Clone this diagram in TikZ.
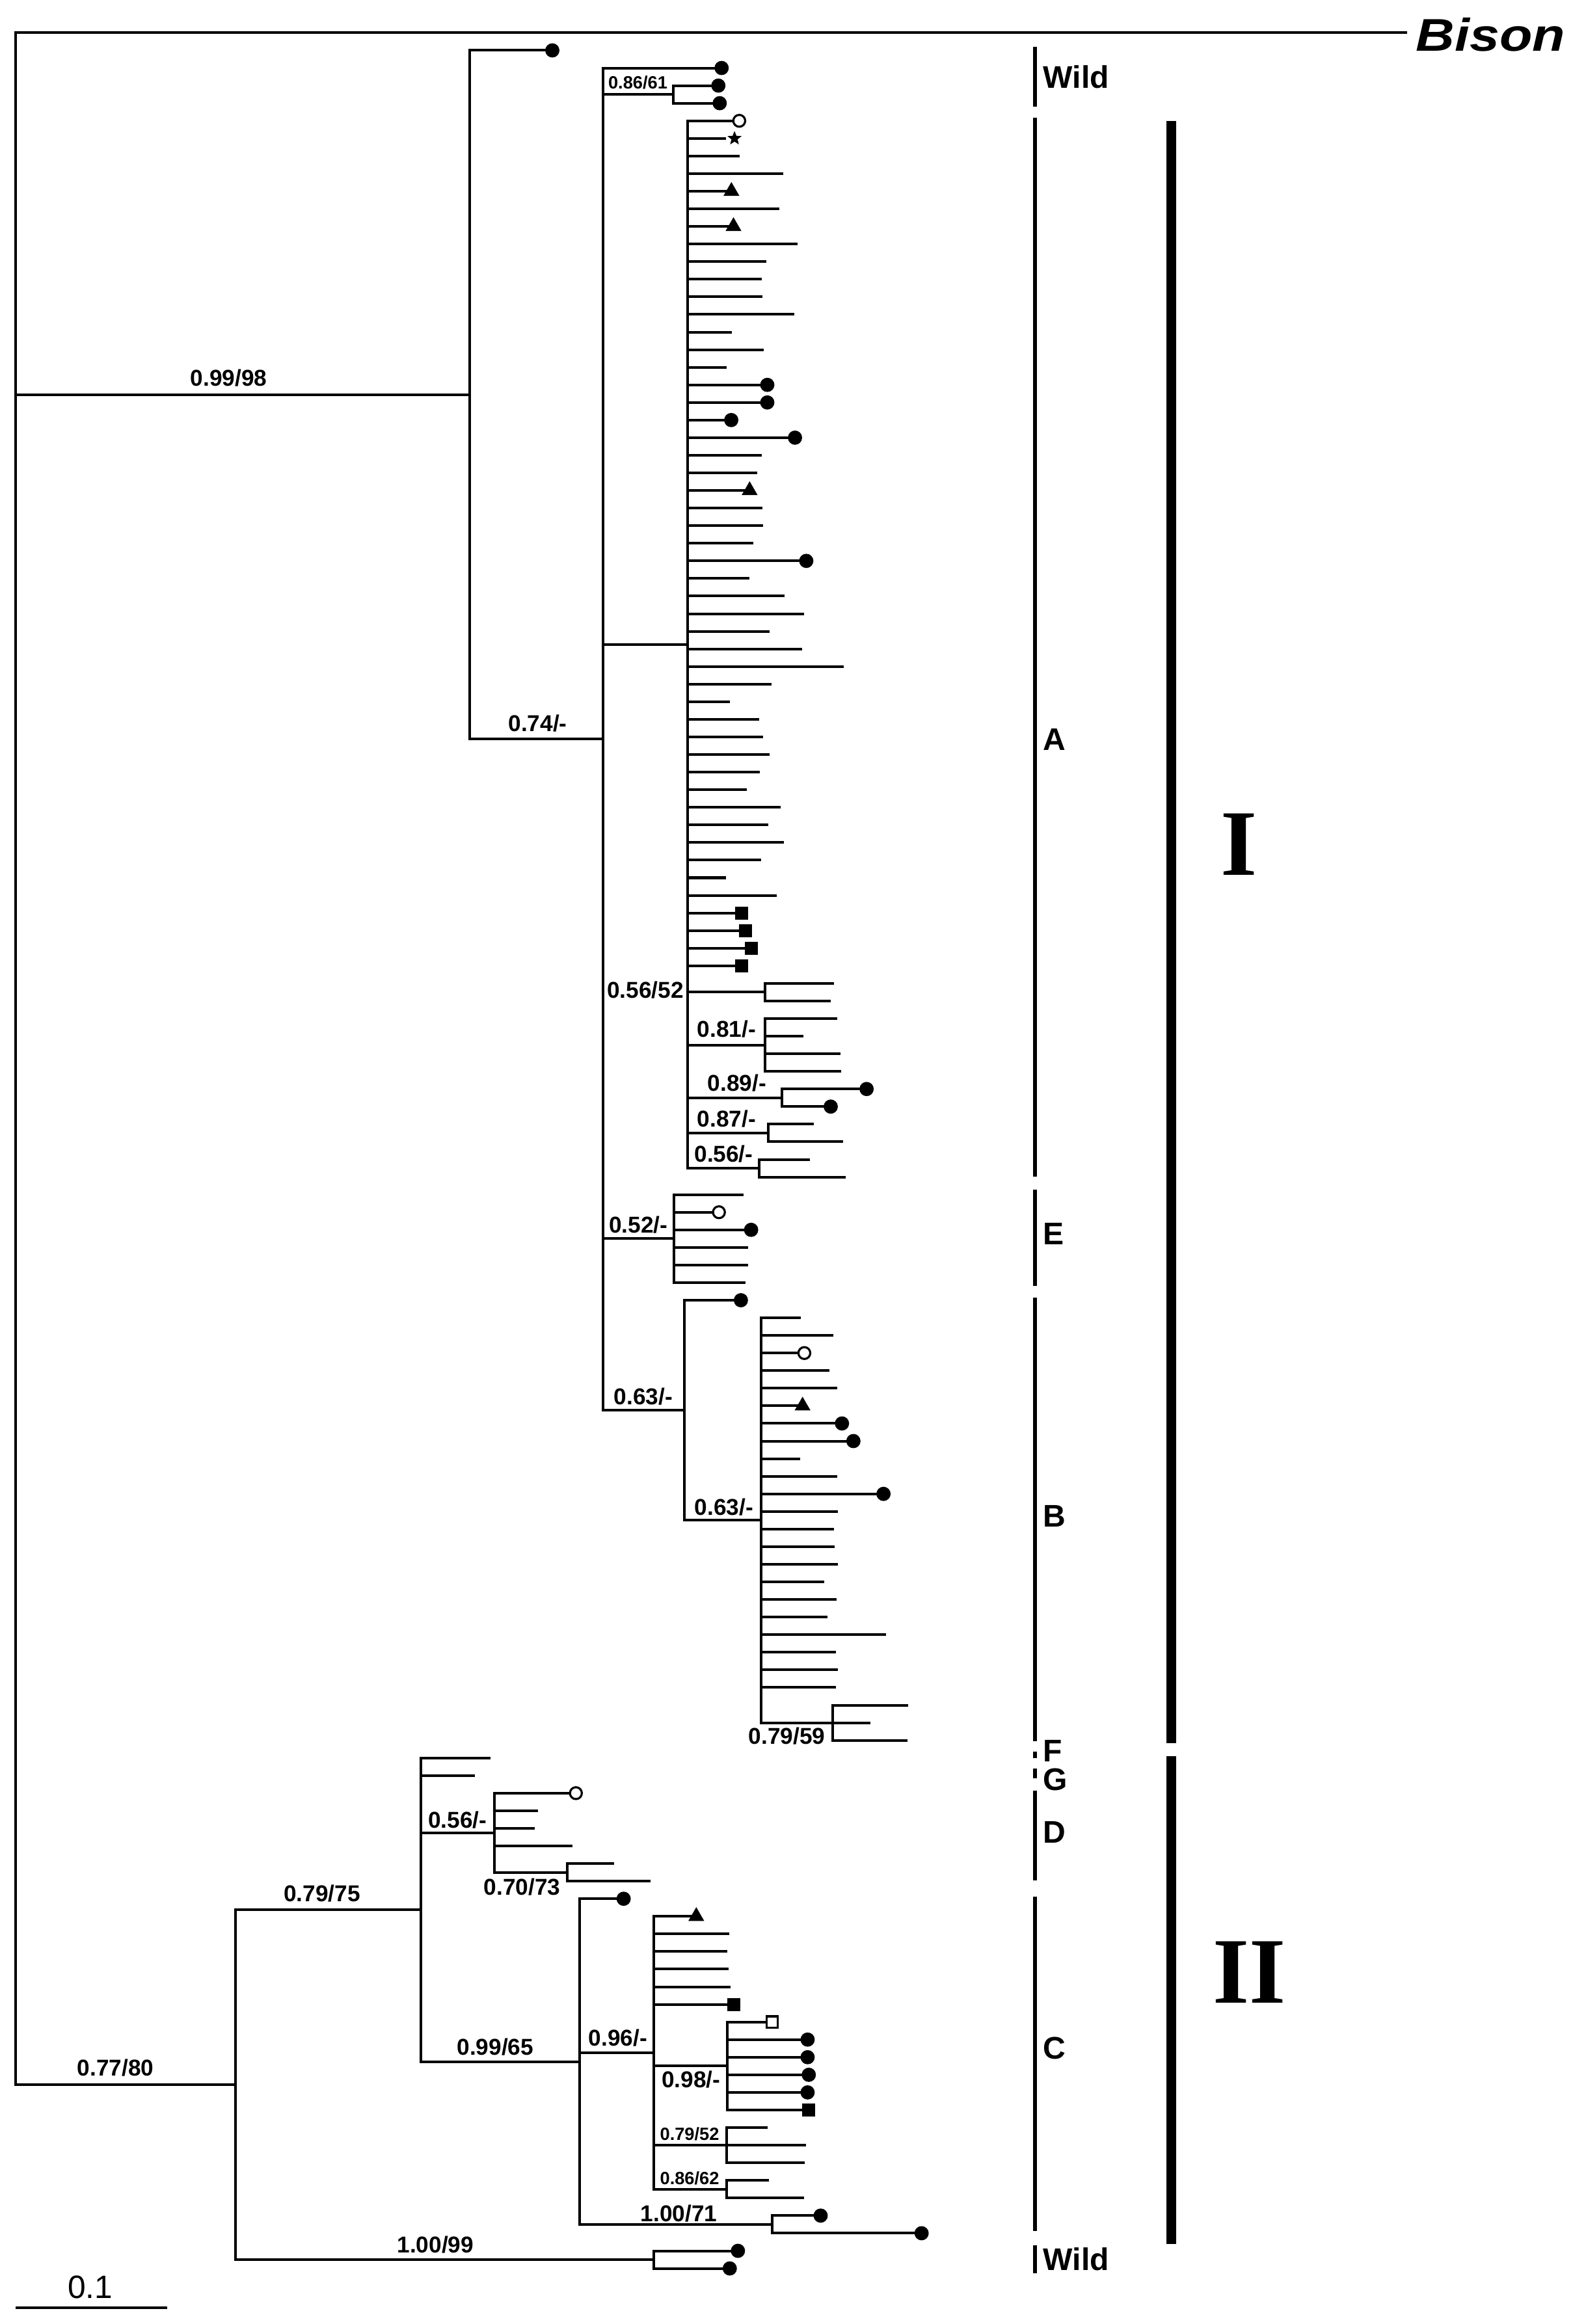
\documentclass[tikz,border=0pt]{standalone}
\usepackage{fontspec}
\usepackage{graphicx}
\setmainfont{Liberation Sans}
\newfontfamily\romanfont{Liberation Serif}
\usetikzlibrary{shapes.geometric}
\begin{document}
\begin{tikzpicture}[x=0.025cm,y=0.025cm,
  declare function={ry(\k)=-(81.5+(\k-1)*11.877);},
  br/.style={line width=1.25pt,line cap=rect},
  mfc/.style={circle,fill=black,inner sep=0pt,minimum size=0.24cm},
  moc/.style={circle,draw=black,fill=white,line width=1pt,inner sep=0pt,minimum size=0.2cm},
  mtri/.style={regular polygon,regular polygon sides=3,fill=black,inner sep=0pt,minimum size=0.31cm},
  msq/.style={rectangle,fill=black,inner sep=0pt,minimum size=0.22cm},
  mosq/.style={rectangle,draw=black,fill=white,line width=1pt,inner sep=0pt,minimum size=0.19cm},
  mstar/.style={star,star points=5,star point ratio=2.3,fill=black,inner sep=0pt,minimum size=0.25cm},
  lab/.style={font=\fontsize{11}{13}\selectfont\bfseries,inner sep=0pt},
  slab/.style={font=\fontsize{8.5}{10}\selectfont\bfseries,inner sep=0pt},
  clab/.style={font=\fontsize{15}{17}\selectfont\bfseries,inner sep=0pt,anchor=west},
  brk/.style={line width=2pt},
  thickbar/.style={line width=4.7pt},
]
\useasboundingbox (0,0) rectangle (1061,-1568);

% ---------- internal nodes ----------
\coordinate (root) at (10.5,{ry(-4)});
\coordinate (bisonE) at (948.3,{ry(-4)});
\coordinate (n317) at (317,{ry(16.5625)});
\coordinate (n074) at (406.8,{ry(36.125)});
\coordinate (n086) at (454.4,{ry(-0.5)});
\coordinate (nA) at (463.8,{ry(30.75)});
\coordinate (n056a) at (516.2,{ry(50.5)});
\coordinate (n081) at (516.2,{ry(53.5)});
\coordinate (n089) at (527.5,{ry(56.5)});
\coordinate (n087) at (518.4,{ry(58.5)});
\coordinate (n056b) at (512.1,{ry(60.5)});
\coordinate (nE) at (454.8,{ry(64.5)});
\coordinate (n063a) at (461.8,{ry(74.25)});
\coordinate (nB) at (513.6,{ry(80.5)});
\coordinate (n079b) at (561.9,{ry(92)});
\coordinate (n077) at (158.7,{ry(112.5625)});
\coordinate (n079a) at (283.9,{ry(102.625)});
\coordinate (n056c) at (333.6,{ry(98.25)});
\coordinate (n070) at (382.6,{ry(100.5)});
\coordinate (n099) at (390.8,{ry(111.25)});
\coordinate (n096) at (441.2,{ry(110.75)});
\coordinate (n098) at (490.7,{ry(111.5)});
\coordinate (n079c) at (490.2,{ry(116)});
\coordinate (n086b) at (490.2,{ry(118.5)});
\coordinate (n100a) at (520.9,{ry(120.5)});
\coordinate (n100b) at (441,{ry(122.5)});

% ---------- internal branches ----------
\draw[br] (root) -- (bisonE);
\foreach \p/\c in {root/n317,root/n077,n317/n074,n074/n086,n074/nA,n074/nE,n074/n063a,
  nA/n056a,nA/n081,nA/n089,nA/n087,nA/n056b,n063a/nB,nB/n079b,
  n077/n079a,n077/n100b,n079a/n056c,n079a/n099,n056c/n070,n099/n096,n099/n100a,
  n096/n098,n096/n079c,n096/n086b}
  \draw[br] (\p) |- (\c);

% ---------- leaves ----------
\foreach \p/\x/\r in {n317/372.6/-3,n074/486.8/-2,n086/484.6/-1,n086/485.5/0,
  nA/498.7/1,nA/488.7/2,nA/498.2/3,nA/527.5/4,nA/493.4/5,nA/525/6,nA/494.8/7,nA/537/8,
  nA/516.1/9,nA/513.2/10,nA/513.6/11,nA/535.1/12,nA/492.8/13,nA/514.3/14,nA/489.5/15,
  nA/517.6/16,nA/517.6/17,nA/493.3/18,nA/536.3/19,nA/513/20,nA/510/21,nA/505.7/22,
  nA/513.6/23,nA/513.8/24,nA/507.5/25,nA/543.9/26,nA/504.5/27,nA/528.2/28,nA/541.7/29,
  nA/518.3/30,nA/540.2/31,nA/568.2/32,nA/519.5/33,nA/491.7/34,nA/511.4/35,nA/513.8/36,
  nA/518.4/37,nA/511.9/38,nA/502.9/39,nA/525.8/40,nA/517.3/41,nA/528/42,nA/512.7/43,
  nA/488.7/44,nA/523/45,nA/500.1/46,nA/503.1/47,nA/506.7/48,nA/500.1/49,
  n056a/561.9/50,n056a/559.4/51,
  n081/564.1/52,n081/541.1/53,n081/566.3/54,n081/566.6/55,
  n089/584.6/56,n089/560.4/57,n087/548/58,n087/567.7/59,n056b/545.5/60,n056b/569.5/61,
  nE/500.7/62,nE/485/63,nE/506.7/64,nE/503.6/65,nE/503.6/66,nE/502.1/67,
  n063a/499.8/68,
  nB/539.2/69,nB/561.4/70,nB/542.6/71,nB/558.7/72,nB/563.8/73,nB/541.4/74,nB/568/75,
  nB/575.7/76,nB/538.7/77,nB/563.8/78,nB/596/79,nB/564.4/80,nB/561.7/81,nB/562.2/82,
  nB/564.5/83,nB/555.3/84,nB/563.3/85,nB/557.2/86,nB/596.7/87,nB/563.1/88,nB/564.4/89,
  nB/562.9/90,n079b/611.6/91,n079b/586.3/92,n079b/611.4/93,
  n079a/330/94,n079a/319.4/95,
  n056c/388.5/96,n056c/362.2/97,n056c/360/98,n056c/385.1/99,n070/413.4/100,n070/437.8/101,
  n099/420.7/102,
  n096/469.7/103,n096/491.2/104,n096/489.9/105,n096/490.7/106,n096/491.9/107,n096/495.2/108,
  n098/521/109,n098/544.8/110,n098/544.8/111,n098/545.6/112,n098/544.8/113,n098/545.3/114,
  n079c/516.8/115,n079c/542.8/116,n079c/542/117,n086b/518/118,n086b/541.7/119,
  n100a/553.6/120,n100a/621.7/121,n100b/497.8/122,n100b/492.3/123}
  \draw[br] (\p) |- (\x,{ry(\r)});

% ---------- markers ----------
\foreach \s/\x/\r [count=\i] in {mfc/372.6/-3,mfc/486.8/-2,mfc/484.6/-1,mfc/485.5/0,
  moc/498.7/1,mstar/495.5/2,mtri/493.4/5,mtri/494.8/7,mfc/517.6/16,mfc/517.6/17,
  mfc/493.3/18,mfc/536.3/19,mtri/505.7/22,mfc/543.9/26,msq/500.1/46,msq/503.1/47,
  msq/506.7/48,msq/500.1/49,mfc/584.6/56,mfc/560.4/57,
  moc/485/63,mfc/506.7/64,
  mfc/499.8/68,moc/542.6/71,mtri/541.4/74,mfc/568/75,mfc/575.7/76,mfc/596/79,
  moc/388.5/96,mfc/420.7/102,mtri/469.7/103,msq/495.2/108,mosq/521/109,mfc/544.8/110,
  mfc/544.8/111,mfc/545.6/112,mfc/544.8/113,msq/545.3/114,mfc/553.6/120,mfc/621.7/121,
  mfc/497.8/122,mfc/492.3/123}
  \node[\s] (mk\i) at (\x,{ry(\r)}) {};

% ---------- support labels ----------
\node[lab] (l1) at (154.3,-254.8) {0.99/98};
\node[lab] (l2) at (362.7,-488.2) {0.74/-};
\node[lab] (l3) at (77.9,-1395.2) {0.77/80};
\node[lab] (l4) at (217.3,-1277.6) {0.79/75};
\node[lab] (l5) at (293.7,-1514.4) {1.00/99};
\node[lab] (l6) at (308.7,-1227.7) {0.56/-};
\node[lab] (l7) at (352.3,-1273) {0.70/73};
\node[lab] (l8) at (334.1,-1381) {0.99/65};
\node[lab] (l9) at (416.9,-1374.9) {0.96/-};
\node[lab] (l10) at (466.1,-1402.9) {0.98/-};
\node[lab] (l11) at (457.9,-1493.3) {1.00/71};
\node[lab] (l12) at (435.4,-668) {0.56/52};
\node[lab] (l13) at (490.2,-694.3) {0.81/-};
\node[lab] (l14) at (497.2,-730.9) {0.89/-};
\node[lab] (l15) at (490.2,-754.7) {0.87/-};
\node[lab] (l16) at (488.2,-778.7) {0.56/-};
\node[lab] (l17) at (430.6,-826.2) {0.52/-};
\node[lab] (l18) at (434,-942.2) {0.63/-};
\node[lab] (l19) at (488.3,-1016.7) {0.63/-};
\node[lab] (l20) at (530.8,-1171.3) {0.79/59};
\node[slab] (l21) at (430.3,-55.9) {0.86/61};
\node[slab] (l22) at (465.2,-1439.6) {0.79/52};
\node[slab] (l23) at (465.2,-1469.8) {0.86/62};

% ---------- Bison ----------
\node[anchor=west,inner sep=0pt] (bison) at (955,-23.4)
  {\scalebox{1.17}[1]{\fontsize{22}{24}\selectfont\bfseries\itshape Bison}};

% ---------- clade brackets ----------
\draw[brk] (698.3,-31.7) -- (698.3,-71.8);
\draw[brk] (698.3,-79.4) -- (698.3,-793.7);
\draw[brk] (698.3,-802.8) -- (698.3,-867.8);
\draw[brk] (698.3,-875.4) -- (698.3,-1174.6);
\draw[brk] (698.3,-1181.7) -- (698.3,-1186.3);
\draw[brk] (698.3,-1193.2) -- (698.3,-1200);
\draw[brk] (698.3,-1208) -- (698.3,-1268.9);
\draw[brk] (698.3,-1279.5) -- (698.3,-1505.2);
\draw[brk] (698.3,-1514.7) -- (698.3,-1533.7);
\node[clab] (cw1) at (703.5,-51.8) {Wild};
\node[clab] (cA) at (703.5,-499) {A};
\node[clab] (cE) at (703.5,-832.3) {E};
\node[clab] (cB) at (703.5,-1022.8) {B};
\node[clab] (cF) at (703.5,-1181.5) {F};
\node[clab] (cG) at (703.5,-1200.6) {G};
\node[clab] (cD) at (703.5,-1236) {D};
\node[clab] (cC) at (703.5,-1381.8) {C};
\node[clab] (cw2) at (703.5,-1524.2) {Wild};

\draw[thickbar] (790.2,-81.6) -- (790.2,-1176.3);
\draw[thickbar] (790.2,-1185) -- (790.2,-1513.9);
\node[inner sep=0pt,font={\romanfont\bfseries\fontsize{45}{50}\selectfont}] (rI) at (835.7,-569.7) {I};
\node[inner sep=0pt,font={\romanfont\bfseries\fontsize{45}{50}\selectfont}] (rII) at (843,-1330.6) {II};

% ---------- scale bar ----------
\coordinate (sb1) at (10.5,-1556.9);
\coordinate (sb2) at (112.6,-1556.9);
\draw[line width=1.25pt] (sb1) -- (sb2);
\node[inner sep=0pt,font=\fontsize{15.5}{17}\selectfont] (sbl) at (60.9,-1543) {0.1};
\end{tikzpicture}
\end{document}
